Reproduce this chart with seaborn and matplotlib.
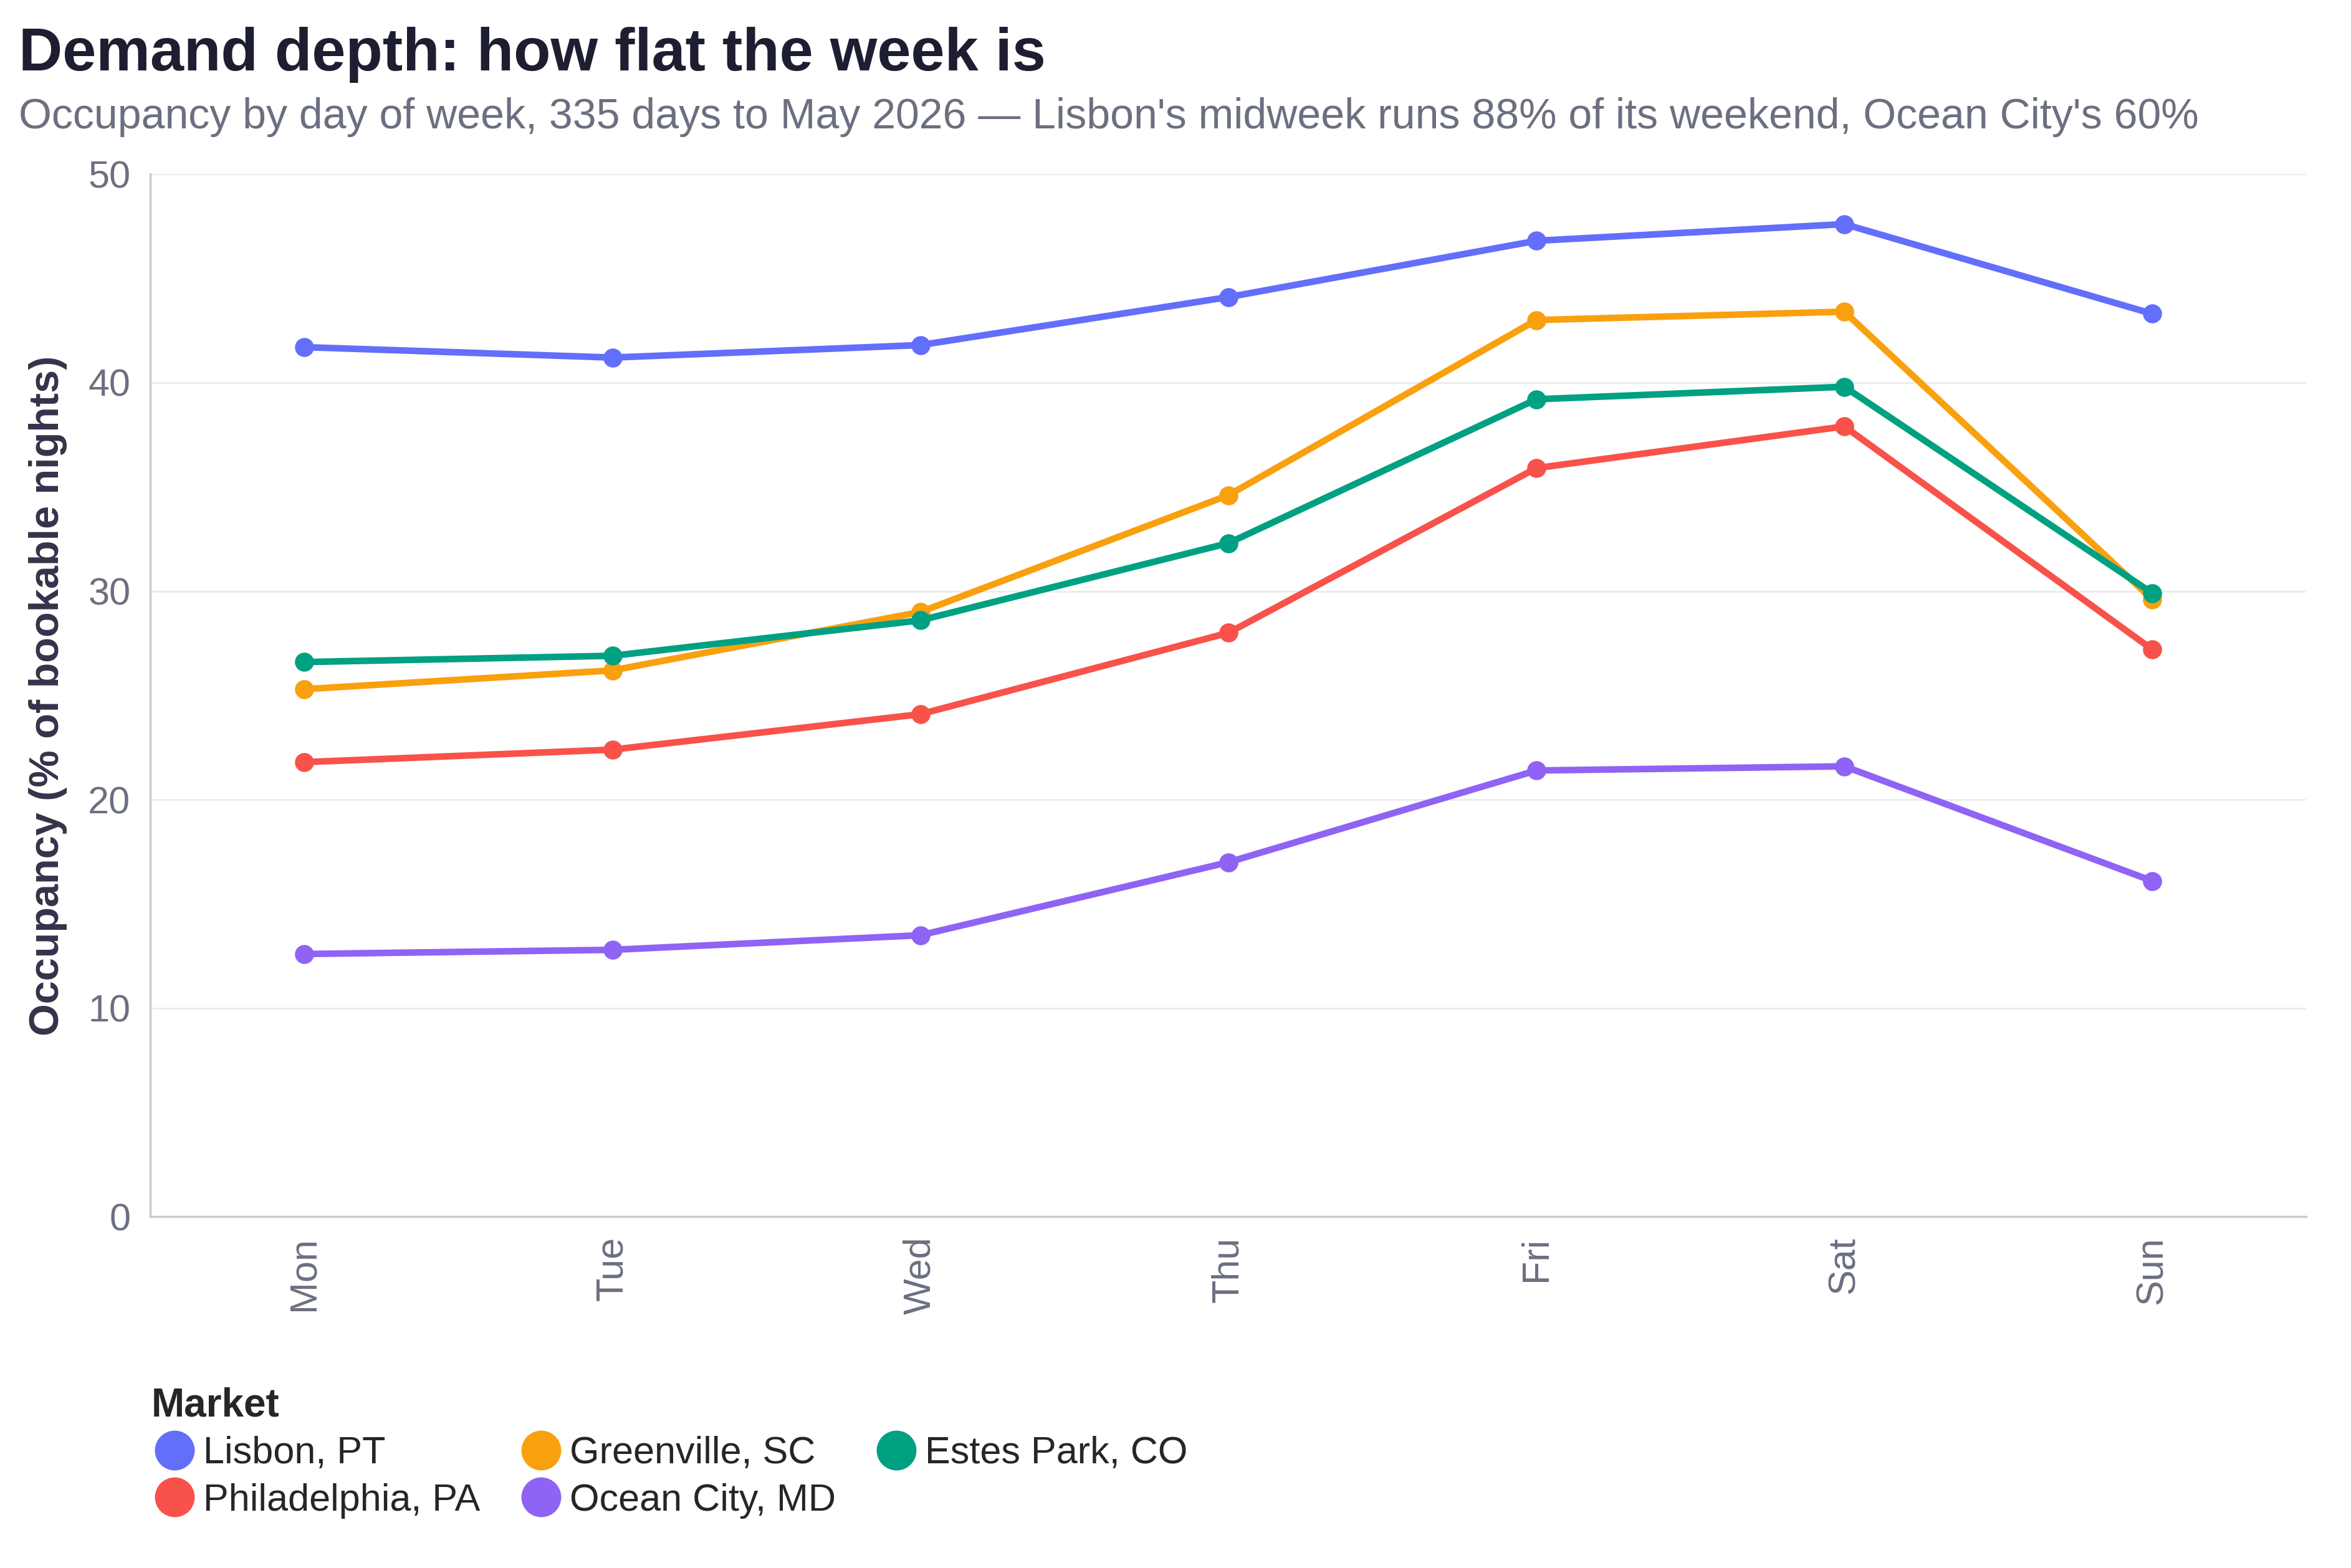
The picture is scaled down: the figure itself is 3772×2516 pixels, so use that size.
import matplotlib
matplotlib.use("Agg")
import matplotlib.pyplot as plt
import seaborn as sns
import pandas as pd
from matplotlib.lines import Line2D

days = ["Mon", "Tue", "Wed", "Thu", "Fri", "Sat", "Sun"]
markets = ["Lisbon, PT", "Greenville, SC", "Estes Park, CO", "Philadelphia, PA", "Ocean City, MD"]
lisbon = [41.7, 41.2, 41.8, 44.1, 46.8, 47.6, 43.3]
greenville = [25.3, 26.2, 29.0, 34.6, 43.0, 43.4, 29.6]
estes = [26.6, 26.9, 28.6, 32.3, 39.2, 39.8, 29.9]
philly = [21.8, 22.4, 24.1, 28.0, 35.9, 37.9, 27.2]
ocean = [12.6, 12.8, 13.5, 17.0, 21.4, 21.6, 16.1]
colors = ["#636EFA", "#F9A00F", "#00A083", "#F8524A", "#8F63F4"]

series = [lisbon, greenville, estes, philly, ocean]
rows = []
for m, vals in zip(markets, series):
    for i, (d, v) in enumerate(zip(days, vals)):
        rows.append({"Market": m, "Day": d, "idx": i, "Occ": v})
df = pd.DataFrame(rows)

sns.set_theme(style="white")
plt.rcParams['font.family'] = ['Liberation Sans', 'DejaVu Sans']

fig = plt.figure(figsize=(18.86, 12.58), dpi=200)
ax = fig.add_axes([0.064, 0.224, 0.917, 0.665])
pal = dict(zip(markets, colors))
sns.lineplot(data=df, x="idx", y="Occ", hue="Market", palette=pal, ax=ax,
             linewidth=3.8, marker="o", markersize=11, markeredgewidth=0, legend=False)

ax.set_xlim(-0.5, 6.5)
ax.set_ylim(0, 50)
ax.set_xticks(range(7))
ax.set_xticklabels(days, rotation=90, fontsize=22, color="#6B6F80")
ax.set_yticks([0, 10, 20, 30, 40, 50])
ax.tick_params(axis="y", labelsize=22, labelcolor="#6B6F80", length=8, color="#C8C8D0")
ax.tick_params(axis="x", length=8, color="#C8C8D0")
ax.set_xlabel("")
ax.set_ylabel("Occupancy (% of bookable nights)", fontsize=24, fontweight="bold", color="#33334A", labelpad=12)
ax.yaxis.grid(True, color="#EBEBEF", linewidth=1)
ax.set_axisbelow(True)
for s in ["top", "right"]:
    ax.spines[s].set_visible(False)
for s in ["left", "bottom"]:
    ax.spines[s].set_color("#C8C8D0")
    ax.spines[s].set_linewidth(1.2)

fig.text(0.008, 0.955, "Demand depth: how flat the week is", fontsize=35, fontweight="bold", color="#1E1E32")
fig.text(0.008, 0.918, "Occupancy by day of week, 335 days to May 2026 \u2014 Lisbon's midweek runs 88% of its weekend, Ocean City's 60%",
         fontsize=24.5, color="#6B6F80")

order = ["Lisbon, PT", "Philadelphia, PA", "Greenville, SC", "Ocean City, MD", "Estes Park, CO"]
handles = [Line2D([], [], linestyle="", marker="o", markersize=22, color=pal[m]) for m in order]
leg = fig.legend(handles, order, loc="upper left", bbox_to_anchor=(0.058, 0.125), ncol=3,
                 frameon=False, fontsize=22, title="Market", handletextpad=0.15,
                 columnspacing=1.0, labelspacing=0.3, borderaxespad=0, handlelength=1.2)
leg.get_title().set_fontweight("bold")
leg.get_title().set_fontsize(23)
leg._legend_box.align = "left"

fig.savefig("out.png", dpi=200)
